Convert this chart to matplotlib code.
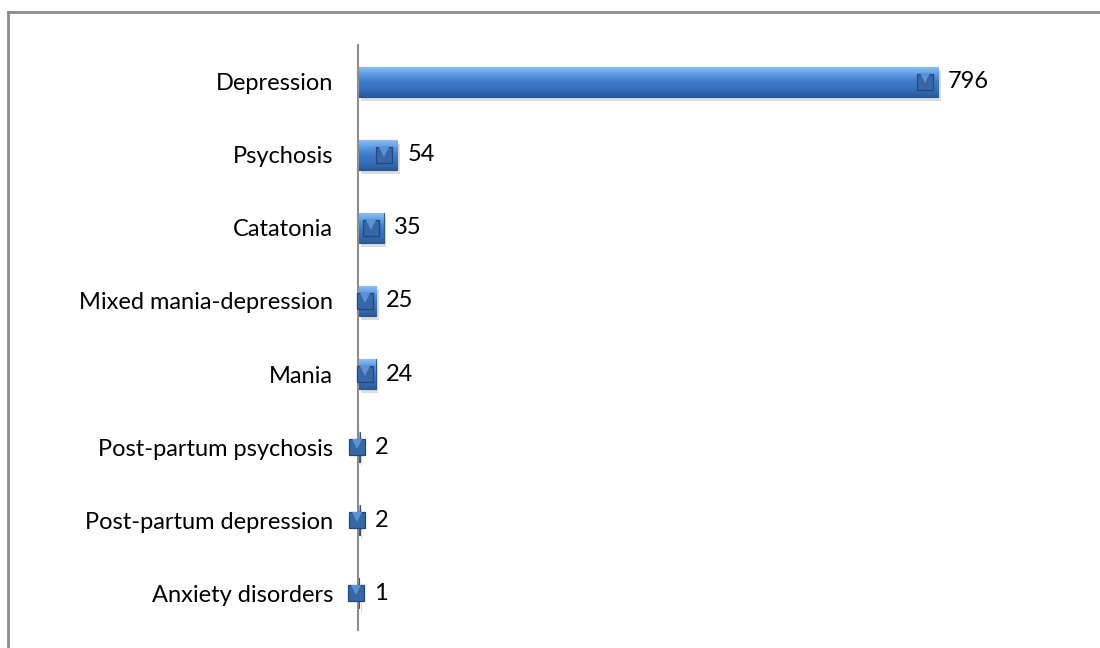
import numpy as np
import matplotlib
matplotlib.use("Agg")
import matplotlib.pyplot as plt
from matplotlib.lines import Line2D
from matplotlib.transforms import ScaledTranslation

categories = ["Depression", "Psychosis", "Catatonia", "Mixed mania-depression",
              "Mania", "Post-partum psychosis", "Post-partum depression", "Anxiety disorders"]
counts = [796, 54, 35, 25, 24, 2, 2, 1]

plt.rcParams['font.family'] = ['Lato', 'DejaVu Sans']

fig = plt.figure(figsize=(11, 6.48), dpi=100)
ax = fig.add_axes([0.3255, 0.0278, 0.6625, 0.9028])

y = np.arange(len(categories))
ax.set_xlim(0, 1000)
ax.set_ylim(len(categories) - 0.5, -0.5)

# soft shadow below each bar
shadow_off = ScaledTranslation(2 / 72, -3 / 72, fig.dpi_scale_trans)
ax.barh(y, counts, height=0.41, color='#b0b0b0', alpha=0.45, linewidth=0,
        transform=ax.transData + shadow_off, zorder=2)

bars = ax.barh(y, counts, height=0.41, color='#3c78c6', edgecolor='#2a558e', linewidth=0.8, zorder=3)

# vertical gradient inside each bar (light top, dark bottom)
grad = np.linspace(0, 1, 64).reshape(-1, 1)
cmap = matplotlib.colors.LinearSegmentedColormap.from_list(
    "bevel", ["#8cc0f2", "#5b98e0", "#3d7bc8", "#3570bb", "#2b5b99"])
for b in bars:
    x0, y0, w, h = b.get_x(), b.get_y(), b.get_width(), b.get_height()
    im = ax.imshow(grad, cmap=cmap, aspect='auto', extent=(x0, x0 + w, y0 + h, y0),
                   zorder=4, interpolation='bicubic')
    im.set_clip_path(b)

# dark cap square at the end of each bar (kept inside long bars, around the axis for tiny ones)
px_per_unit = (ax.transData.transform((1000, 0))[0] - ax.transData.transform((0, 0))[0]) / 1000
cap_px = 12 * fig.dpi / 72
for yi, v in zip(y, counts):
    bar_px = v * px_per_unit
    shift_px = min(13, max(3, bar_px - 7))
    off = ScaledTranslation(-shift_px / fig.dpi, 0, fig.dpi_scale_trans)
    ax.plot([v], [yi], linestyle='none', marker='s', markersize=12,
            markerfacecolor='#3767a6', markeredgecolor='#23477a', markeredgewidth=0.9,
            transform=ax.transData + off, zorder=6, clip_on=False)
    ax.plot([v], [yi], linestyle='none', marker='v', markersize=6.5,
            markerfacecolor='#5a93d6', markeredgewidth=0,
            transform=ax.transData + off + ScaledTranslation(0, 2.2 / 72, fig.dpi_scale_trans),
            zorder=7, clip_on=False)

    # value label just right of the bar end or the cap, whichever sits further right
    label_px = max(bar_px, cap_px / 2 - shift_px + bar_px) + 10
    ax.annotate(str(v), (v, yi), xytext=(label_px - bar_px, 0), textcoords='offset pixels',
                va='center', ha='left', fontsize=17, color='black')

ax.set_yticks(y)
ax.set_yticklabels(categories, fontsize=17)
ax.tick_params(axis='y', length=0, pad=18)
ax.set_xticks([])
for s in ['top', 'right', 'bottom']:
    ax.spines[s].set_visible(False)
ax.spines['left'].set_color('#8c8c8c')
ax.spines['left'].set_linewidth(1.5)
ax.spines['left'].set_zorder(5)

# outer chart frame (top and left edges visible)
fig.add_artist(Line2D([8 / 1100, 1], [1 - 12 / 648, 1 - 12 / 648], transform=fig.transFigure,
                      color='#8c8c8c', linewidth=2))
fig.add_artist(Line2D([8 / 1100, 8 / 1100], [0, 1 - 12 / 648], transform=fig.transFigure,
                      color='#8c8c8c', linewidth=2))

fig.savefig("out.png", dpi=100)
